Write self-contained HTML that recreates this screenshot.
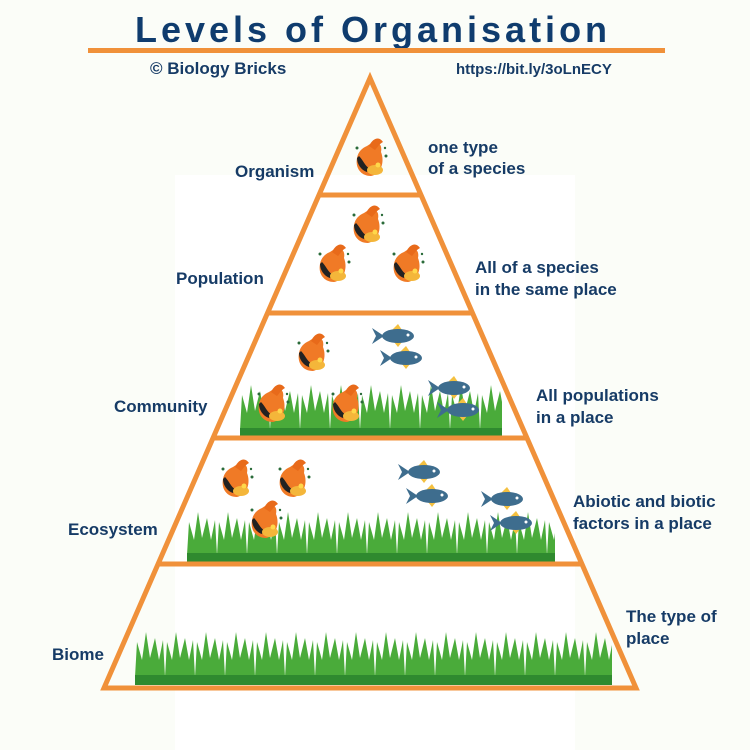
<!DOCTYPE html>
<html><head><meta charset="utf-8"><style>
html,body{margin:0;padding:0;background:#fbfdf8}
svg{display:block}
text{font-family:"Liberation Sans",sans-serif;font-weight:bold;fill:#163b66}
</style></head><body>
<svg width="750" height="750" viewBox="0 0 750 750" xmlns="http://www.w3.org/2000/svg">
<defs>
<pattern id="gr1" x="240" y="385" width="30" height="45" patternUnits="userSpaceOnUse">
<polygon points="0,45 2,10 7,28 11,0 15,26 20,6 24,28 28,8 30,45" fill="#4aab3a"/>
</pattern>
<pattern id="gr2" x="187" y="512" width="30" height="43" patternUnits="userSpaceOnUse">
<polygon points="0,43 2,10 7,28 11,0 15,26 20,6 24,28 28,8 30,43" fill="#4aab3a"/>
</pattern>
<pattern id="gr3" x="135" y="632" width="30" height="45" patternUnits="userSpaceOnUse">
<polygon points="0,45 2,10 7,28 11,0 15,26 20,6 24,28 28,8 30,45" fill="#4aab3a"/>
</pattern>
<g id="koi">
<path d="M-4,-14 C4,-20 12,-18 10,-8 C14,2 10,14 0,16 C-10,16 -16,8 -14,-2 C-13,-8 -9,-12 -4,-14Z" fill="#f07a26"/>
<path d="M-2,-14 C2,-22 8,-24 12,-18 C8,-16 6,-12 4,-10Z" fill="#e86a1a"/>
<path d="M-12,-4 C-8,0 -6,6 -2,8 L-4,12 C-10,10 -14,4 -14,-2Z" fill="#222"/>
<ellipse cx="4" cy="10" rx="8" ry="5" fill="#f4b63a"/>
<circle cx="7" cy="5" r="2.5" fill="#ffd84a"/>
<circle cx="-14" cy="-12" r="1.5" fill="#2a6b3a"/><circle cx="15" cy="-4" r="1.5" fill="#2a6b3a"/><circle cx="14" cy="-12" r="1.2" fill="#2a6b3a"/>
</g>
<g id="bf">
<path d="M-4,-6 L2,-12 L6,-6Z" fill="#f4c040"/>
<path d="M-2,6 L2,11 L6,6Z" fill="#f4c040"/>
<ellipse cx="2" cy="0" rx="16" ry="7" fill="#3e6d8e"/>
<path d="M-12,0 L-24,-8 L-20,0 L-24,8Z" fill="#3e6d8e"/>
<circle cx="12" cy="-1" r="1.5" fill="#fff"/>
</g>
</defs>
<rect x="175" y="175" width="400" height="575" fill="#ffffff"/>
<text x="373" y="42" text-anchor="middle" style="font-size:36px;letter-spacing:4px;fill:#0f3c6e">Levels of Organisation</text>
<rect x="88" y="48" width="577" height="5" fill="#f0913a"/>
<text x="150" y="74" style="font-size:17px">© Biology Bricks</text>
<text x="456" y="74" style="font-size:15px">https://bit.ly/3oLnECY</text>

<rect x="240" y="385" width="262" height="45" fill="url(#gr1)"/>
<rect x="240" y="428" width="262" height="10" fill="#2f8a2f"/>
<rect x="187" y="512" width="368" height="43" fill="url(#gr2)"/>
<rect x="187" y="553" width="368" height="10" fill="#2f8a2f"/>
<rect x="135" y="632" width="477" height="45" fill="url(#gr3)"/>
<rect x="135" y="675" width="477" height="10" fill="#2f8a2f"/>

<polygon points="370,78 104,688 636,688" fill="none" stroke="#f0913a" stroke-width="5"/>
<line x1="319" y1="195" x2="421" y2="195" stroke="#f0913a" stroke-width="5"/>
<line x1="267" y1="313" x2="472" y2="313" stroke="#f0913a" stroke-width="5"/>
<line x1="212" y1="438" x2="528" y2="438" stroke="#f0913a" stroke-width="5"/>
<line x1="158" y1="564" x2="582" y2="564" stroke="#f0913a" stroke-width="5"/>

<use href="#koi" x="371" y="160"/>
<use href="#koi" x="368" y="227"/><use href="#koi" x="334" y="266"/><use href="#koi" x="408" y="266"/>
<use href="#koi" x="313" y="355"/><use href="#koi" x="273" y="406"/><use href="#koi" x="347" y="406"/>
<use href="#koi" x="237" y="481"/><use href="#koi" x="294" y="481"/><use href="#koi" x="266" y="522"/>
<use href="#bf" x="396" y="336"/><use href="#bf" x="404" y="358"/><use href="#bf" x="452" y="388"/><use href="#bf" x="461" y="410"/>
<use href="#bf" x="422" y="472"/><use href="#bf" x="430" y="496"/><use href="#bf" x="505" y="499"/><use href="#bf" x="514" y="523"/>

<g style="font-size:17px">
<text x="235" y="177">Organism</text>
<text x="428" y="153">one type</text><text x="428" y="174">of a species</text>
<text x="176" y="284">Population</text>
<text x="475" y="273">All of a species</text><text x="475" y="295">in the same place</text>
<text x="114" y="412">Community</text>
<text x="536" y="401">All populations</text><text x="536" y="423">in a place</text>
<text x="68" y="535">Ecosystem</text>
<text x="573" y="507">Abiotic and biotic</text><text x="573" y="529">factors in a place</text>
<text x="52" y="660">Biome</text>
<text x="626" y="622">The type of</text><text x="626" y="644">place</text>
</g>
</svg>
</body></html>
